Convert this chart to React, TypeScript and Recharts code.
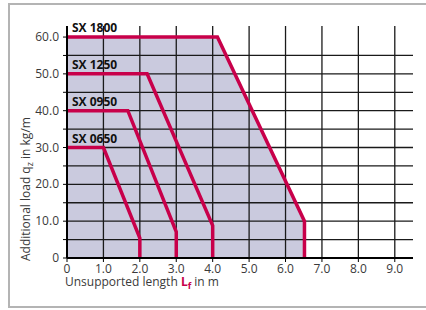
import React from 'react';
import { ComposedChart, Line, Area, XAxis, YAxis, ReferenceLine } from 'recharts';

// axis ticks
const xTicks = [0, 1, 2, 3, 4, 5, 6, 7, 8, 9];
const yTicks = [0, 5, 10, 15, 20, 25, 30, 35, 40, 45, 50, 55, 60];
const gridX = [1, 2, 3, 4, 5, 6, 7, 8, 9];
const gridY = [5, 10, 15, 20, 25, 30, 35, 40, 45, 50, 55];

// load curves (length in m, load in kg/m)
const sx0650 = [
  { x: 0, y: 30 },
  { x: 1.0, y: 30 },
  { x: 2.0, y: 5.4 },
  { x: 2.0, y: 0 },
];
const sx0950 = [
  { x: 0, y: 40 },
  { x: 1.67, y: 40 },
  { x: 3.0, y: 7.1 },
  { x: 3.0, y: 0 },
];
const sx1250 = [
  { x: 0, y: 50 },
  { x: 2.2, y: 50 },
  { x: 4.0, y: 8.8 },
  { x: 4.0, y: 0 },
];
const sx1800 = [
  { x: 0, y: 60 },
  { x: 4.13, y: 60 },
  { x: 6.52, y: 10 },
  { x: 6.52, y: 0 },
];

const series = [
  { name: 'SX 0650', data: sx0650 },
  { name: 'SX 0950', data: sx0950 },
  { name: 'SX 1250', data: sx1250 },
  { name: 'SX 1800', data: sx1800 },
];

const RED = '#C8004A';
const FONT = '"Open Sans", sans-serif';

const fmt = (v: number) => (v === 0 ? '0' : v.toFixed(1));

const YTick = (props: any) => {
  const { x, y, payload } = props;
  if (payload.value % 10 !== 0) return null;
  return (
    <text x={x - 2} y={y + 4} textAnchor="end" fontSize={12} fill="#3a3a3a" fontFamily={FONT}>
      {fmt(payload.value)}
    </text>
  );
};

const XTick = (props: any) => {
  const { x, y, payload } = props;
  return (
    <text x={x} y={y + 9} textAnchor="middle" fontSize={12} fill="#3a3a3a" fontFamily={FONT}>
      {fmt(payload.value)}
    </text>
  );
};

const seriesLabel = (name: string) => (props: any) => {
  const { x, y, index } = props;
  if (index !== 0) return null;
  return (
    <text x={x + 5} y={y - 5} fontSize={12} fontWeight="bold" fill="#111" fontFamily={FONT}>
      {name}
    </text>
  );
};

const XTitle = (props: any) => {
  const { x, y } = props.viewBox;
  return (
    <text x={x - 2} y={y + 28} fontSize={12} fill="#3a3a3a" fontFamily={FONT}>
      Unsupported length <tspan fill={RED} fontWeight="bold">L</tspan>
      <tspan fill={RED} fontWeight="bold" fontSize={9} dy={3}>f</tspan>
      <tspan dy={-3}> in m</tspan>
    </text>
  );
};

const YTitle = (props: any) => {
  const { y, height } = props.viewBox;
  const bx = 30;
  const by = y + height + 3;
  return (
    <text x={bx} y={by} transform={`rotate(-90 ${bx} ${by})`} fontSize={12} fill="#3a3a3a" fontFamily={FONT}>
      Additional load q<tspan fontSize={9} dy={3}>z</tspan>
      <tspan dy={-3}> in kg/m</tspan>
    </text>
  );
};

export default function App() {
  return (
    <div style={{ position: 'absolute', left: 0, top: 0, width: 426, height: 310, overflow: 'hidden', background: '#fff' }}>
      <ComposedChart width={426} height={310} margin={{ top: 26, right: 13, left: 0, bottom: 0 }}>
        <XAxis
          type="number"
          dataKey="x"
          domain={[0, 9.5]}
          ticks={xTicks}
          interval={0}
          allowDataOverflow
          height={52}
          tick={<XTick />}
          tickSize={4}
          axisLine={{ stroke: '#000', strokeWidth: 2 }}
          tickLine={{ stroke: '#000' }}
          label={<XTitle />}
        />
        <YAxis
          type="number"
          dataKey="y"
          domain={[0, 63]}
          ticks={yTicks}
          interval={0}
          allowDataOverflow
          width={67}
          tick={<YTick />}
          tickSize={4}
          axisLine={{ stroke: '#000', strokeWidth: 2 }}
          tickLine={{ stroke: '#000' }}
          label={<YTitle />}
        />
        <Area
          data={sx1800}
          dataKey="y"
          type="linear"
          fill="#CACADE"
          fillOpacity={1}
          stroke="none"
          baseValue={0}
          isAnimationActive={false}
        />
        {gridX.map((v) => (
          <ReferenceLine key={`gx${v}`} x={v} stroke="#1a1a1a" strokeWidth={1.3} />
        ))}
        {gridY.map((v) => (
          <ReferenceLine key={`gy${v}`} y={v} stroke="#1a1a1a" strokeWidth={1.3} />
        ))}
        {series.map((s) => (
          <Line
            key={s.name}
            data={s.data}
            dataKey="y"
            type="linear"
            stroke={RED}
            strokeWidth={3.5}
            dot={false}
            activeDot={false}
            label={seriesLabel(s.name)}
            isAnimationActive={false}
          />
        ))}
      </ComposedChart>
      {/* frame: top, left and bottom edges, right edge is cut off */}
      <svg width={426} height={310} style={{ position: 'absolute', left: 0, top: 0, pointerEvents: 'none' }}>
        <path d="M426 4 H9 V307 H426" fill="none" stroke="#b4b4b4" strokeWidth={2} />
      </svg>
    </div>
  );
}
